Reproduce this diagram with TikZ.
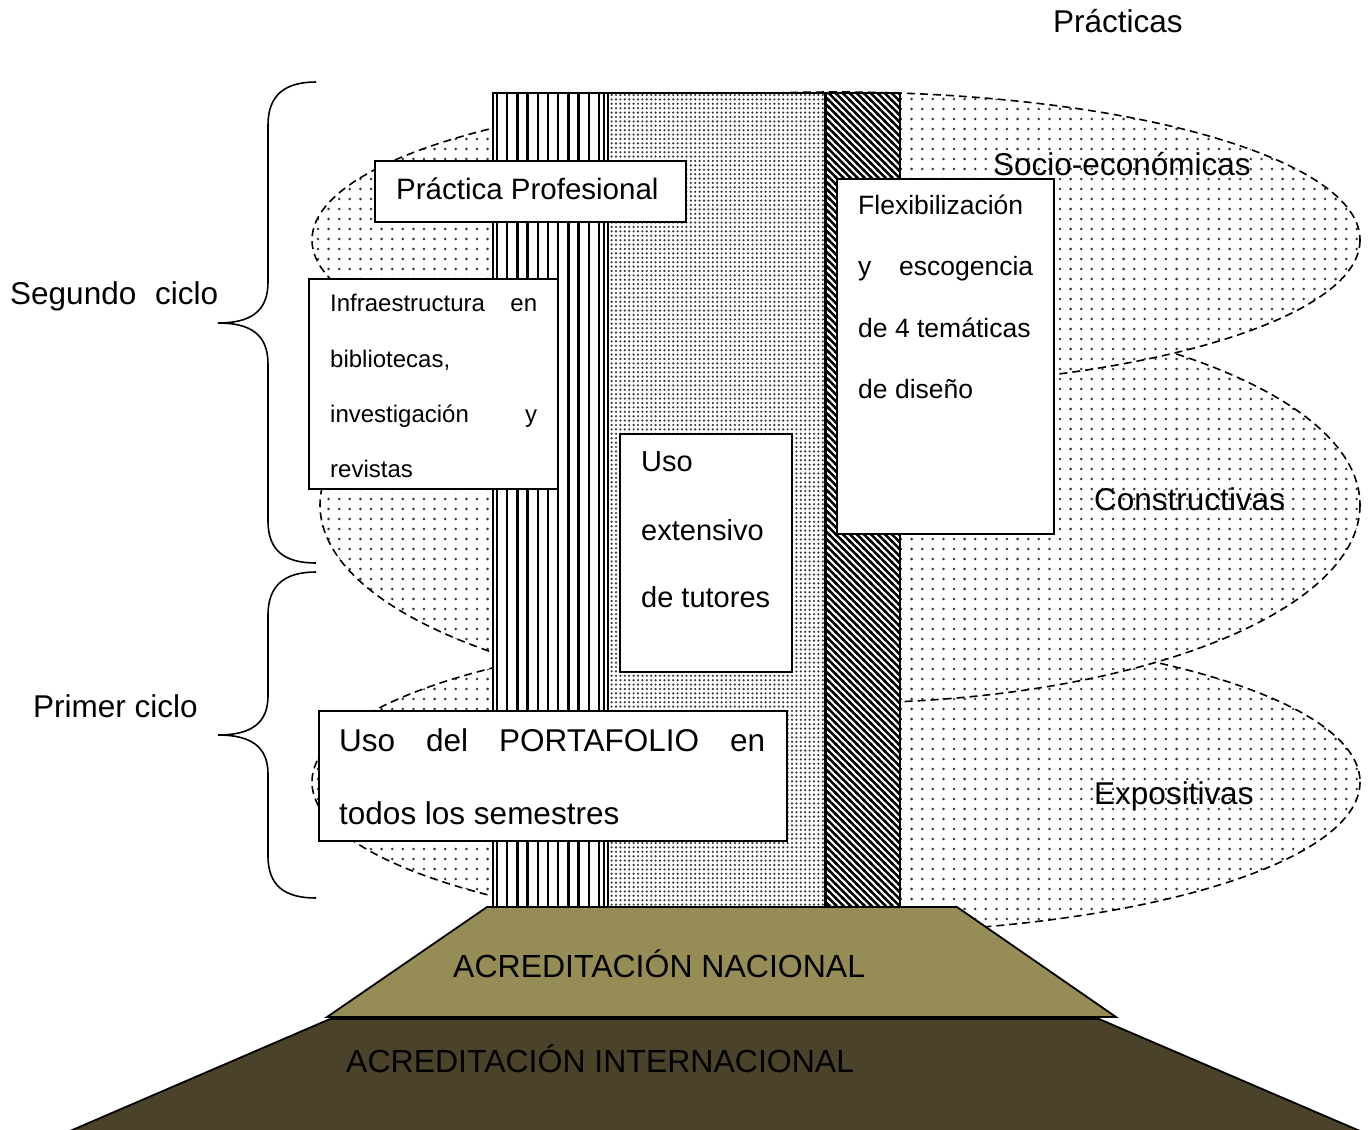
\documentclass[tikz,border=0pt]{standalone}
\usepackage{fontspec}
\setmainfont{Liberation Sans}
\usetikzlibrary{patterns}
\pgfdeclarepatternformonly{sparsedots}{\pgfqpoint{-2pt}{-2pt}}{\pgfqpoint{2pt}{2pt}}{\pgfqpoint{10.6pt}{10pt}}{\pgfpathcircle{\pgfqpoint{0pt}{0pt}}{1.4pt}\pgfusepath{fill}}
\pgfdeclarepatternformonly{densedots}{\pgfqpoint{-1.4pt}{-1.4pt}}{\pgfqpoint{1.4pt}{1.4pt}}{\pgfqpoint{4.4pt}{4.4pt}}{\pgfpathcircle{\pgfqpoint{0pt}{0pt}}{1.2pt}\pgfusepath{fill}}
\pgfdeclarepatternformonly{dstripes}{\pgfqpoint{0pt}{0pt}}{\pgfqpoint{6.8pt}{6.8pt}}{\pgfqpoint{6.8pt}{6.8pt}}{\pgfsetlinewidth{2.5pt}\pgfpathmoveto{\pgfqpoint{-1pt}{7.8pt}}\pgfpathlineto{\pgfqpoint{7.8pt}{-1pt}}\pgfpathmoveto{\pgfqpoint{-1pt}{1pt}}\pgfpathlineto{\pgfqpoint{1pt}{-1pt}}\pgfpathmoveto{\pgfqpoint{5.8pt}{7.8pt}}\pgfpathlineto{\pgfqpoint{7.8pt}{5.8pt}}\pgfusepath{stroke}}
\definecolor{olivebox}{HTML}{968C55}
\definecolor{darkbox}{HTML}{4A4229}
\begin{document}
\begin{tikzpicture}[x=1pt,y=-1pt,
  lbl/.style={anchor=base west, inner sep=0pt, font=\fontsize{31.5}{36}\selectfont},
  boxtxt/.style={anchor=base west, inner sep=0pt},
  box/.style={draw, line width=1.8pt, fill=white, inner sep=0pt, anchor=north west},
  elldash/.style={dash pattern=on 8pt off 5pt, line width=1.6pt},
  ellfill/.style={pattern=sparsedots, pattern color=black!80},
  brace/.style={line width=1.6pt},
  pyr/.style={draw, line width=1.8pt}]
\useasboundingbox[fill=white] (0,0) rectangle (1372,1129);

% ellipses (bottom to top)
\fill[white] (836,782) ellipse [x radius=524, y radius=151];
\fill[ellfill] (836,782) ellipse [x radius=524, y radius=151];
\draw[elldash] (836,782) ellipse [x radius=524, y radius=151];
\fill[white] (840,505) ellipse [x radius=520, y radius=198];
\fill[ellfill] (840,505) ellipse [x radius=520, y radius=198];
\draw[elldash] (840,505) ellipse [x radius=520, y radius=198];
\fill[white] (836,240) ellipse [x radius=524, y radius=148];
\fill[ellfill] (836,240) ellipse [x radius=524, y radius=148];
\draw[elldash] (836,240) ellipse [x radius=524, y radius=148];

% pyramid
\draw[pyr, fill=darkbox] (330,1019) -- (1099,1019) -- (1360,1131) -- (70,1131) -- cycle;
\draw[pyr, fill=olivebox] (487,907) -- (957,907) -- (1116,1017) -- (327,1017) -- cycle;

% columns
\fill[white] (493,93) rectangle (900,907);
\foreach \i in {0,...,10} \draw[line width=2.3pt] ({497+\i*10.2},93) -- ({497+\i*10.2},907);
\fill[pattern=densedots, pattern color=black!80] (608,93) rectangle (825,907);
\fill[pattern=dstripes, pattern color=black] (825,93) rectangle (900,907);
\draw[line width=1.6pt] (493,93) rectangle (900,907);
\draw[line width=1.4pt] (604,93) -- (604,907);
\draw[line width=1.4pt] (608,93) -- (608,907);
\draw[line width=3pt] (825,93) -- (825,907);

% boxes
\node[box, minimum width=311pt, minimum height=61pt] (pp) at (374,160) {};
\node[box, minimum width=249pt, minimum height=210pt] (infra) at (308,278) {};
\node[box, minimum width=217pt, minimum height=355pt] (flex) at (836,178) {};
\node[box, minimum width=172pt, minimum height=238pt] (uso) at (619,433) {};
\node[box, minimum width=468pt, minimum height=130pt] (port) at (318,710) {};

\node[lbl, font=\fontsize{29.5}{34}\selectfont] (ppt) at (396,199) {Práctica Profesional};

\node[boxtxt, font=\fontsize{24}{28}\selectfont] (i1) at (330,311) {\makebox[207pt][s]{Infraestructura\hfill en}};
\node[boxtxt, font=\fontsize{24}{28}\selectfont] (i2) at (330,367) {bibliotecas,};
\node[boxtxt, font=\fontsize{24}{28}\selectfont] (i3) at (330,422) {\makebox[207pt][s]{investigación\hfill y}};
\node[boxtxt, font=\fontsize{24}{28}\selectfont] (i4) at (330,477) {revistas};

\node[boxtxt, font=\fontsize{26.5}{30}\selectfont] (f1) at (858,214) {Flexibilización};
\node[boxtxt, font=\fontsize{26.5}{30}\selectfont] (f2) at (858,275) {\makebox[175pt][s]{y\hfill escogencia}};
\node[boxtxt, font=\fontsize{26.5}{30}\selectfont] (f3) at (858,337) {de 4 temáticas};
\node[boxtxt, font=\fontsize{26.5}{30}\selectfont] (f4) at (858,398) {de diseño};

\node[boxtxt, font=\fontsize{29}{34}\selectfont] (u1) at (641,471) {Uso};
\node[boxtxt, font=\fontsize{29}{34}\selectfont] (u2) at (641,540) {extensivo};
\node[boxtxt, font=\fontsize{29}{34}\selectfont] (u3) at (641,607) {de tutores};

\node[lbl] (p1) at (339,751) {\makebox[426pt][s]{Uso\hfill del\hfill PORTAFOLIO\hfill en}};
\node[lbl] (p2) at (339,824) {todos los semestres};

% labels
\node[lbl] (prac) at (1053,33) {Prácticas};
\node[lbl] (socio) at (993,175) {Socio-económicas};
\node[lbl] (cons) at (1094,510) {Constructivas};
\node[lbl] (expo) at (1094,804) {Expositivas};
\node[lbl] (seg) at (10,304) {\makebox[208pt][s]{Segundo\hfill ciclo}};
\node[lbl] (pri) at (33,717) {Primer ciclo};

\node[lbl, font=\fontsize{32}{36}\selectfont] (nac) at (453,977) {ACREDITACIÓN NACIONAL};
\node[lbl, font=\fontsize{32}{36}\selectfont] (int) at (346,1072) {ACREDITACIÓN INTERNACIONAL};

% braces
\draw[brace] (316,82) .. controls (285,82) and (268,95) .. (268,125) -- (268,282) .. controls (268,312) and (250,323) .. (218,323) .. controls (250,323) and (268,334) .. (268,364) -- (268,521) .. controls (268,551) and (285,563) .. (316,563);
\draw[brace] (316,572) .. controls (285,572) and (268,585) .. (268,615) -- (268,696) .. controls (268,724) and (250,735) .. (218,735) .. controls (250,735) and (268,746) .. (268,774) -- (268,856) .. controls (268,886) and (285,898) .. (316,898);
\end{tikzpicture}
\end{document}
